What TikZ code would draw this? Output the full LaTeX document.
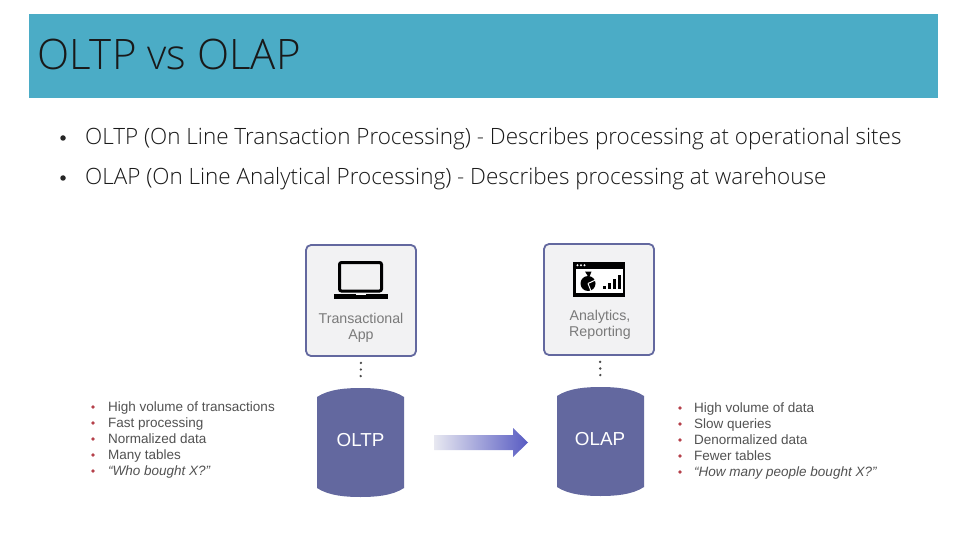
\documentclass[tikz,border=0pt]{standalone}
\usepackage{fontspec}
\setmainfont{Open Sans}
\newfontfamily\lib{Liberation Sans}
\newfontfamily\thin{Open Sans Light}
\usetikzlibrary{shapes.arrows}
\definecolor{hdr}{HTML}{4BACC6}
\definecolor{cyl}{HTML}{63689F}
\definecolor{boxfill}{HTML}{F2F2F3}
\definecolor{listred}{HTML}{B5404A}
\tikzset{
 x=1pt,y=-1pt,
 body/.style={anchor=base west,inner sep=0pt,font=\thin\fontsize{22.45}{24}\selectfont,text=black!90},
 appbox/.style={draw=cyl,line width=1.8pt,fill=boxfill,rounded corners=5pt,minimum width=110pt,minimum height=111pt,inner sep=0pt},
 boxlabel/.style={anchor=base,inner sep=0pt,font=\lib\fontsize{14.2}{16}\selectfont,text=black!52},
 dbnode/.style={minimum width=87pt,minimum height=109pt,inner sep=0pt},
 dbname/.style={inner sep=0pt,font=\lib\fontsize{18.8}{20}\selectfont,text=white},
 link/.style={line width=2.6pt,line cap=round,dash pattern=on 0pt off 6.6pt,draw=black!70,shorten <=6pt,shorten >=6pt},
 item/.style={anchor=base west,inner sep=0pt,font=\lib\fontsize{13.5}{15}\selectfont,text=black!68},
 redbullet/.style={circle,fill=listred,inner sep=0pt,minimum size=3.6pt},
}
\newcommand{\cylpath}[2]{% left x, top y (87 wide, 109 tall)
 \fill[cyl] (#1,#2+9) .. controls (#1+12,#2+1) and (#1+30,#2) .. (#1+43.5,#2)
   .. controls (#1+57,#2) and (#1+75,#2+1) .. (#1+87,#2+9) -- (#1+87,#2+100)
   .. controls (#1+75,#2+108) and (#1+57,#2+109) .. (#1+43.5,#2+109)
   .. controls (#1+30,#2+109) and (#1+12,#2+108) .. (#1,#2+100) -- cycle;}
\begin{document}
\begin{tikzpicture}
\useasboundingbox (0,0) rectangle (960,540);
\fill[white] (0,0) rectangle (960,540);
\fill[hdr] (29,14) rectangle (938,98);
\node[anchor=west,inner sep=0pt,font=\thin\fontsize{42}{46}\selectfont,text=black!90] (title) at (37,54) {OLTP vs OLAP};
\node[body] (b1) at (85,145) {OLTP (On Line Transaction Processing) - Describes processing at operational sites};
\node[body] (b2) at (85,185) {OLAP (On Line Analytical Processing) - Describes processing at warehouse};
\node[circle,fill=black!85,inner sep=0pt,minimum size=5.5pt] (d1) at (63,138) {};
\node[circle,fill=black!85,inner sep=0pt,minimum size=5.5pt] (d2) at (63,178) {};
% boxes
\node[appbox] (app) at (361,300.5) {};
\node[appbox] (rep) at (599,299.5) {};
\node[boxlabel] (l1) at (361,323) {Transactional};
\node[boxlabel] (l2) at (361,339) {App};
\node[boxlabel] (l3) at (600,320) {Analytics,};
\node[boxlabel] (l4) at (600,336) {Reporting};
% laptop
\draw[black,line width=3pt,rounded corners=2pt] (339.5,262.5) rectangle (381.5,291);
\fill[black] (334,294) rectangle (388,298.5);
\fill[white] (356,294) rectangle (366,295.2);
% analytics icon
\fill[black] (573,262) rectangle (625,297);
\fill[white] (575.5,268.5) rectangle (622.5,293);
\foreach \p in {577.5,581,584.5} \fill[white] (\p,265.2) circle (1.1pt);
\fill[black] (588,283.5) circle (7.5);
\fill[black] (585,271.5) -- (591.5,271.5) -- (589,278) -- cycle;
\draw[white,line width=1pt] (588,283.5) -- (595.5,280) (588,283.5) -- (591,291);
\foreach \p/\h in {603/3,608/6,613/10,618/14} \fill[black] (\p,289) rectangle (\p+3,289-\h);
% cylinders
\cylpath{317}{388}
\cylpath{557}{387}
\node[dbnode] (oltp) at (360.5,442.5) {};
\node[dbnode] (olap) at (600.5,441.5) {};
\node[dbname] (n1) at (360.5,440.5) {OLTP};
\node[dbname] (n2) at (600,439) {OLAP};
% dotted links
\draw[link] (app.south) -- (oltp.north);
\draw[link] ([xshift=1pt]rep.south) -- (olap.north);
% arrow
\shade[left color=cyl!15,right color=cyl!70!blue!90!white] (434,435) -- (513,435) -- (513,428) -- (528,442.5) -- (513,457) -- (513,450) -- (434,450) -- cycle;
% left list
\foreach \t/\y/\n in {High volume of transactions/411.5/a,Fast processing/427.5/b,Normalized data/443.5/c,Many tables/459.5/d}{
 \node[item] (la\n) at (108,\y) {\t};
}
\node[item,font=\lib\itshape\fontsize{13.5}{15}\selectfont] (lae) at (108,475.5) {“Who bought X?”};
\foreach \y/\n in {407/a,423/b,439/c,455/d,471/e} \node[redbullet] (lb\n) at (93,\y) {};
% right list
\foreach \t/\y/\n in {High volume of data/412.5/a,Slow queries/428.5/b,Denormalized data/444.5/c,Fewer tables/460.5/d}{
 \node[item] (ra\n) at (694,\y) {\t};
}
\node[item,font=\lib\itshape\fontsize{13.5}{15}\selectfont] (rae) at (694,476.5) {“How many people bought X?”};
\foreach \y/\n in {408/a,424/b,440/c,456/d,472/e} \node[redbullet] (rb\n) at (680,\y) {};
\end{tikzpicture}
\end{document}
